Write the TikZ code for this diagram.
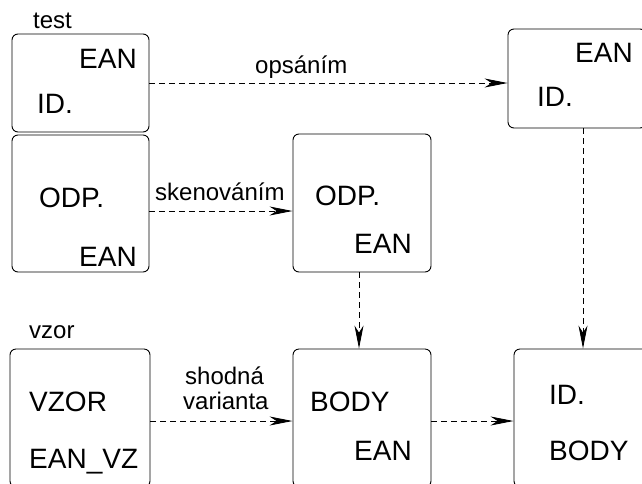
\documentclass[tikz,border=0pt]{standalone}
\usepackage{fontspec}
\setmainfont{Liberation Sans}
\usetikzlibrary{arrows.meta}
\begin{document}
\begin{tikzpicture}[x=1pt,y=-1pt,
  box/.style={draw=black,line width=0.9pt,rounded corners=6pt,minimum width=137pt,inner sep=0pt},
  big/.style={anchor=base west,inner sep=0pt,font=\fontsize{28}{30}\selectfont},
  lab/.style={anchor=base west,inner sep=0pt,font=\fontsize{24}{26}\selectfont},
  arr/.style={draw=black,line width=0.9pt,dash pattern=on 6pt off 4pt,-{Stealth[length=23pt,width=9pt,inset=7pt]}}]
\useasboundingbox (0,0) rectangle (642,483);
% boxes
\node[box,minimum height=98pt] (A) at (80.5,83) {};
\node[box,minimum height=137pt] (B) at (80.5,203.5) {};
\node[box,minimum width=138pt,minimum height=138pt] (C) at (362,203) {};
\node[box,minimum width=138pt,minimum height=99pt] (D) at (577,78.5) {};
\node[box,minimum width=140pt,minimum height=138pt] (E) at (80,418) {};
\node[box,minimum width=138pt,minimum height=138pt] (F) at (362,418) {};
\node[box,minimum width=138pt,minimum height=138pt] (G) at (583,418) {};
% box texts
\node[big] (tA1) at (79,68) {EAN};
\node[big] (tA2) at (37,113) {ID.};
\node[big] (tB1) at (39,207) {ODP.};
\node[big] (tB2) at (79,266) {EAN};
\node[big] (tC1) at (315,205) {ODP.};
\node[big] (tC2) at (354,253) {EAN};
\node[big] (tD1) at (575,62) {EAN};
\node[big] (tD2) at (537,106) {ID.};
\node[big] (tE1) at (29,411) {VZOR};
\node[big] (tE2) at (29,468) {EAN\_VZ};
\node[big] (tF1) at (310,411) {BODY};
\node[big] (tF2) at (354,460) {EAN};
\node[big] (tG1) at (549,404) {ID.};
\node[big] (tG2) at (549,460) {BODY};
% labels
\node[lab] (ltest) at (33,28) {test};
\node[lab] (lvzor) at (29,338) {vzor};
\node[lab] (lops) at (255,73) {opsáním};
\node[lab] (lsken) at (155,200) {skenováním};
\node[lab] (lsh1) at (185,384) {shodná};
\node[lab] (lsh2) at (183,409) {varianta};
% connectors
\draw[arr] (A.east) -- (A.east -| D.west);
\draw[arr] (B.east |- 0,211) -- (C.west |- 0,211);
\draw[arr] ([xshift=-3pt]C.south) -- ([xshift=-3pt]C.south |- F.north);
\draw[arr] (G.north |- D.south) -- (G.north);
\draw[arr] (E.east |- 0,421) -- (F.west |- 0,421);
\draw[arr] (F.east |- 0,421) -- (G.west |- 0,421);
\end{tikzpicture}
\end{document}
